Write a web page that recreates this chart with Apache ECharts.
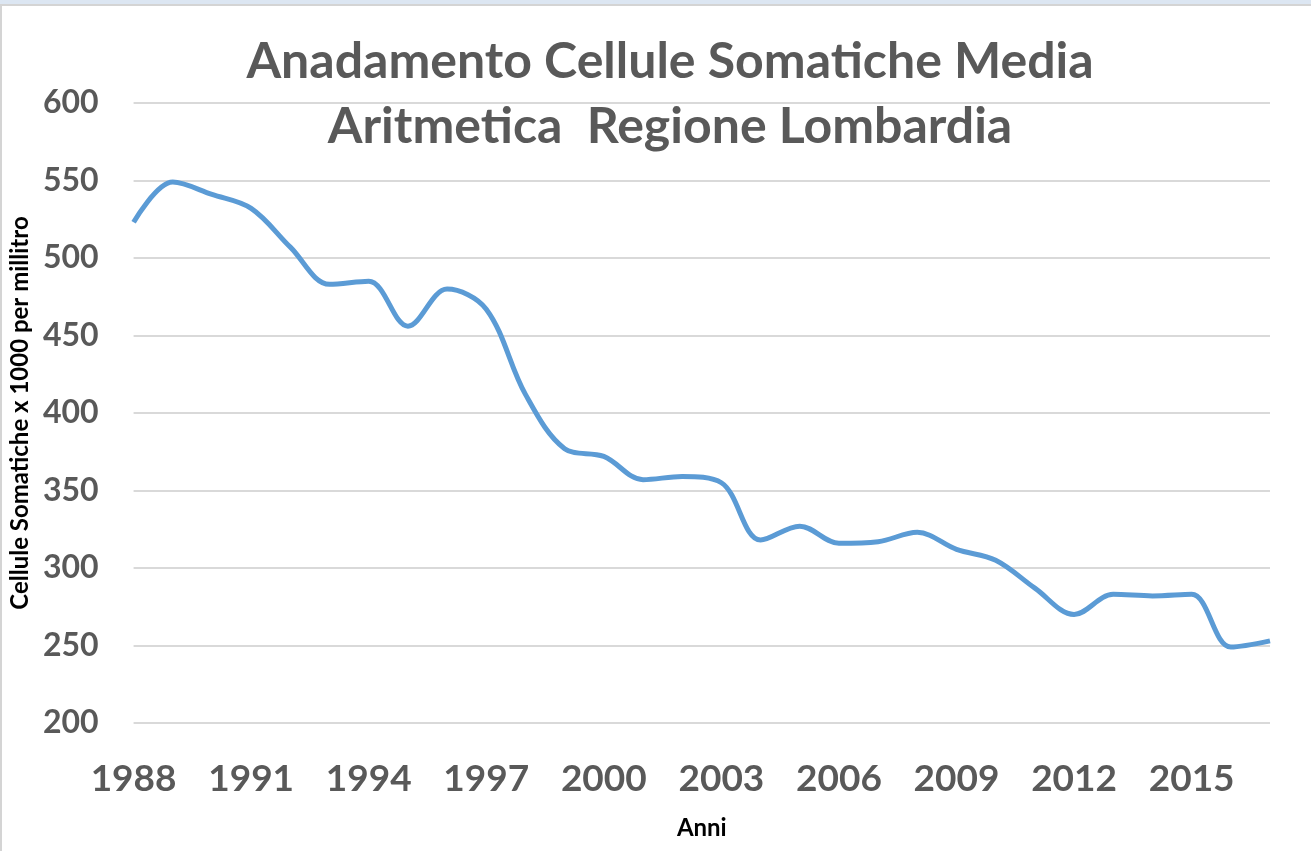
<!DOCTYPE html>
<html lang="it">
<head>
    <meta charset="UTF-8">
    <title>Anadamento Cellule Somatiche</title>
    <script src="https://cdn.jsdelivr.net/npm/echarts@6.0.0/dist/echarts.min.js"></script>
    <style>
        body { margin: 0; background: #dce6f2; }
        #frame { position: absolute; left: 0; top: 4px; width: 1311px; height: 847px;
                 border-top: 2px solid #d4d4d4; border-left: 2px solid #d4d4d4; background: #fff; box-sizing: border-box; }
        #chart { position: absolute; left: 0; top: 0; width: 1311px; height: 851px; }
    </style>
</head>
<body>
    <div id="frame"></div>
    <div id="chart"></div>
    <script>
        // anni
        const years = [];
        for (let y = 1988; y <= 2017; y++) years.push(String(y));

        // cellule somatiche (x 1000 per ml)
        const values = [
            523, 549, 541, 532, 507, 483, 485, 456, 480, 467,
            412, 377, 372, 357, 359, 355, 318, 327, 316, 317,
            323, 312, 305, 287, 270, 283, 282, 283, 249, 253
        ];

        const yTicks = [200, 250, 300, 350, 400, 450, 500, 550, 600];

        const chart = echarts.init(document.getElementById('chart'));

        const font = 'Lato, "Open Sans", sans-serif';

        const option = {
            backgroundColor: 'transparent',
            title: {
                text: 'Anadamento Cellule Somatiche Media\nAritmetica  Regione Lombardia',
                left: 665,
                top: 24,
                textAlign: 'center',
                textStyle: {
                    fontFamily: font,
                    fontSize: 50,
                    fontWeight: 'bold',
                    color: '#595959',
                    lineHeight: 65
                }
            },
            grid: { left: 125, right: 41, top: 103, bottom: 128 },
            xAxis: {
                type: 'category',
                data: years,
                boundaryGap: false,
                name: 'Anni',
                nameLocation: 'middle',
                nameGap: 93,
                nameTextStyle: { fontFamily: font, fontSize: 24, fontWeight: 'bold', color: '#000' },
                axisLine: { show: false },
                axisTick: { show: false },
                axisLabel: {
                    interval: 2,
                    margin: 38,
                    fontFamily: font,
                    fontSize: 37,
                    fontWeight: 'bold',
                    color: '#595959'
                }
            },
            yAxis: {
                type: 'value',
                min: yTicks[0],
                max: yTicks[yTicks.length - 1],
                interval: 50,
                name: 'Cellule Somatiche x 1000 per millitro',
                nameLocation: 'middle',
                nameGap: 98,
                nameTextStyle: { fontFamily: font, fontSize: 24, fontWeight: 'bold', color: '#000' },
                axisLine: { show: false },
                axisTick: { show: false },
                splitLine: { lineStyle: { color: '#d9d9d9', width: 2 } },
                axisLabel: {
                    margin: 35,
                    fontFamily: font,
                    fontSize: 32,
                    fontWeight: 'bold',
                    color: '#595959'
                }
            },
            series: [{
                type: 'line',
                data: values,
                smooth: 0.35,
                symbol: 'none',
                lineStyle: { color: '#5b9bd5', width: 5 }
            }],
            animation: false
        };

        chart.setOption(option);
    </script>
</body>
</html>
